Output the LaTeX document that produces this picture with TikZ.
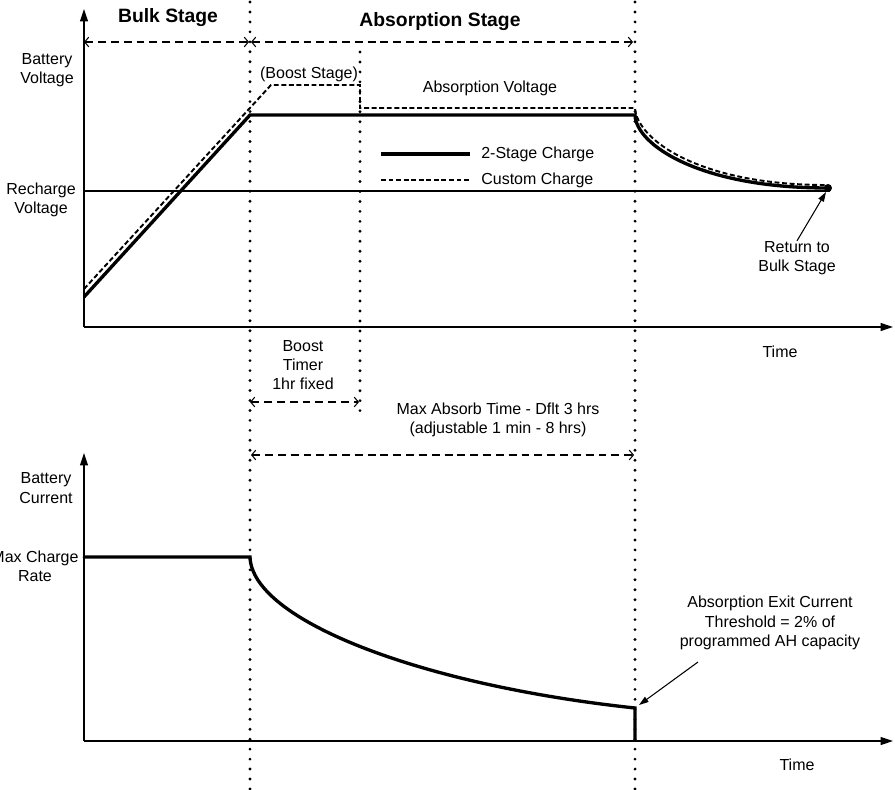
\documentclass[tikz,border=0pt]{standalone}
\usepackage{fontspec}
\setmainfont{Liberation Sans}
\usetikzlibrary{arrows.meta}

\tikzstyle{lbl} = [inner sep=0pt, align=center, font=\fontsize{9.1}{11}\selectfont]
\tikzstyle{stagetitle} = [inner sep=0pt, font=\fontsize{11}{13}\selectfont\bfseries]
\tikzstyle{axis} = [line width=0.6pt, -{Triangle[length=7pt,width=4.5pt]}]
\tikzstyle{span} = [line width=1.1pt, dash pattern=on 4.5pt off 2.8pt, {Straight Barb[length=2.3pt,width=5.5pt,line width=0.6pt]}-{Straight Barb[length=2.3pt,width=5.5pt,line width=0.6pt]}]
\tikzstyle{marker} = [line width=1.8pt, line cap=round, dash pattern=on 0pt off 5.67pt]
\tikzstyle{twostage} = [line width=1.9pt]
\tikzstyle{custom} = [line width=1.1pt, dash pattern=on 2.8pt off 1.5pt]
\tikzstyle{arrow} = [line width=0.6pt, -{Triangle[length=5.5pt,width=3.5pt]}]

\begin{document}
\begin{tikzpicture}[x=0.02cm, y=-0.02cm]
    \useasboundingbox (0,0) rectangle (895,790);

    % stage markers
    \draw [marker] (250,2) -- (250,790);
    \draw [marker] (635,2) -- (635,790);
    \draw [marker] (360,52) -- (360,418);

    % voltage graph
    \coordinate (vorig) at (84,327);
    \draw [axis] (vorig) -- (84,9);
    \draw [axis] (vorig) -- (893,327);
    \draw [line width=0.6pt] (84,191) -- (830,191);

    \coordinate (vend) at (828,188);
    \draw [twostage] (84,297) -- (250,115) -- (635,115)
        .. controls (636,145) and (700,188) .. (vend);
    \fill (vend) circle (4);
    \draw [custom] (84,289) -- (271,85) -- (360,85) -- (360,108) -- (635,108)
        .. controls (637,140) and (700,185) .. (826,185);

    % legend
    \draw [twostage] (381,154) -- (470,154);
    \draw [custom] (381,180) -- (470,180);
    \node (leg2) [lbl, anchor=west] at (481,154) {2-Stage Charge};
    \node (legc) [lbl, anchor=west] at (481,180) {Custom Charge};

    % stage spans
    \coordinate (bulkL) at (84,42);
    \coordinate (bulkR) at (249,42);
    \coordinate (absL) at (251,42);
    \coordinate (absR) at (633,42);
    \draw [span] (bulkL) -- (bulkR);
    \draw [span] (absL) -- (absR);
    \node (bulk) [stagetitle] at (168,18) {Bulk Stage};
    \node (absorb) [stagetitle] at (440,22) {Absorption Stage};

    \node (battv) [lbl] at (47,70) {Battery\\Voltage};
    \node (rechg) [lbl] at (41,200) {Recharge\\Voltage};
    \node (boost) [lbl] at (309,74) {(Boost Stage)};
    \node (absv) [lbl] at (490,88) {Absorption Voltage};
    \node (ret) [lbl] at (797,258) {Return to\\Bulk Stage};
    \node (time1) [lbl] at (780,352) {Time};
    \draw [arrow] (ret.north) -- (826,192);

    % timers
    \node (btimer) [lbl] at (303,365) {Boost\\Timer\\1hr fixed};
    \coordinate (btL) at (250,402);
    \coordinate (btR) at (359,402);
    \draw [span] (btL) -- (btR);
    \node (maxabs) [lbl] at (498,420) {Max Absorb Time - Dflt 3 hrs\\(adjustable 1 min - 8 hrs)};
    \coordinate (maL) at (251,455);
    \coordinate (maR) at (634,455);
    \draw [span] (maL) -- (maR);

    % current graph
    \coordinate (iorig) at (84,741);
    \draw [axis] (iorig) -- (84,453);
    \draw [axis] (iorig) -- (893,741);

    \coordinate (iexit) at (635,708);
    \draw [twostage] (84,557) -- (250,557)
        .. controls (252,620) and (420,685) .. (iexit) -- (635,741);
    \fill (84,557) circle (1.5);

    \node (battc) [lbl] at (46,488) {Battery\\Current};
    \node (maxchg) [lbl] at (35,566) {Max Charge\\Rate};
    \node (exitc) [lbl] at (770,623) {Absorption Exit Current\\Threshold = 2\% of\\programmed AH capacity};
    \node (time2) [lbl] at (797,765) {Time};
    \coordinate (exitfrom) at (698,662);
    \draw [arrow] (exitfrom) -- (639,705);

\end{tikzpicture}
\end{document}
